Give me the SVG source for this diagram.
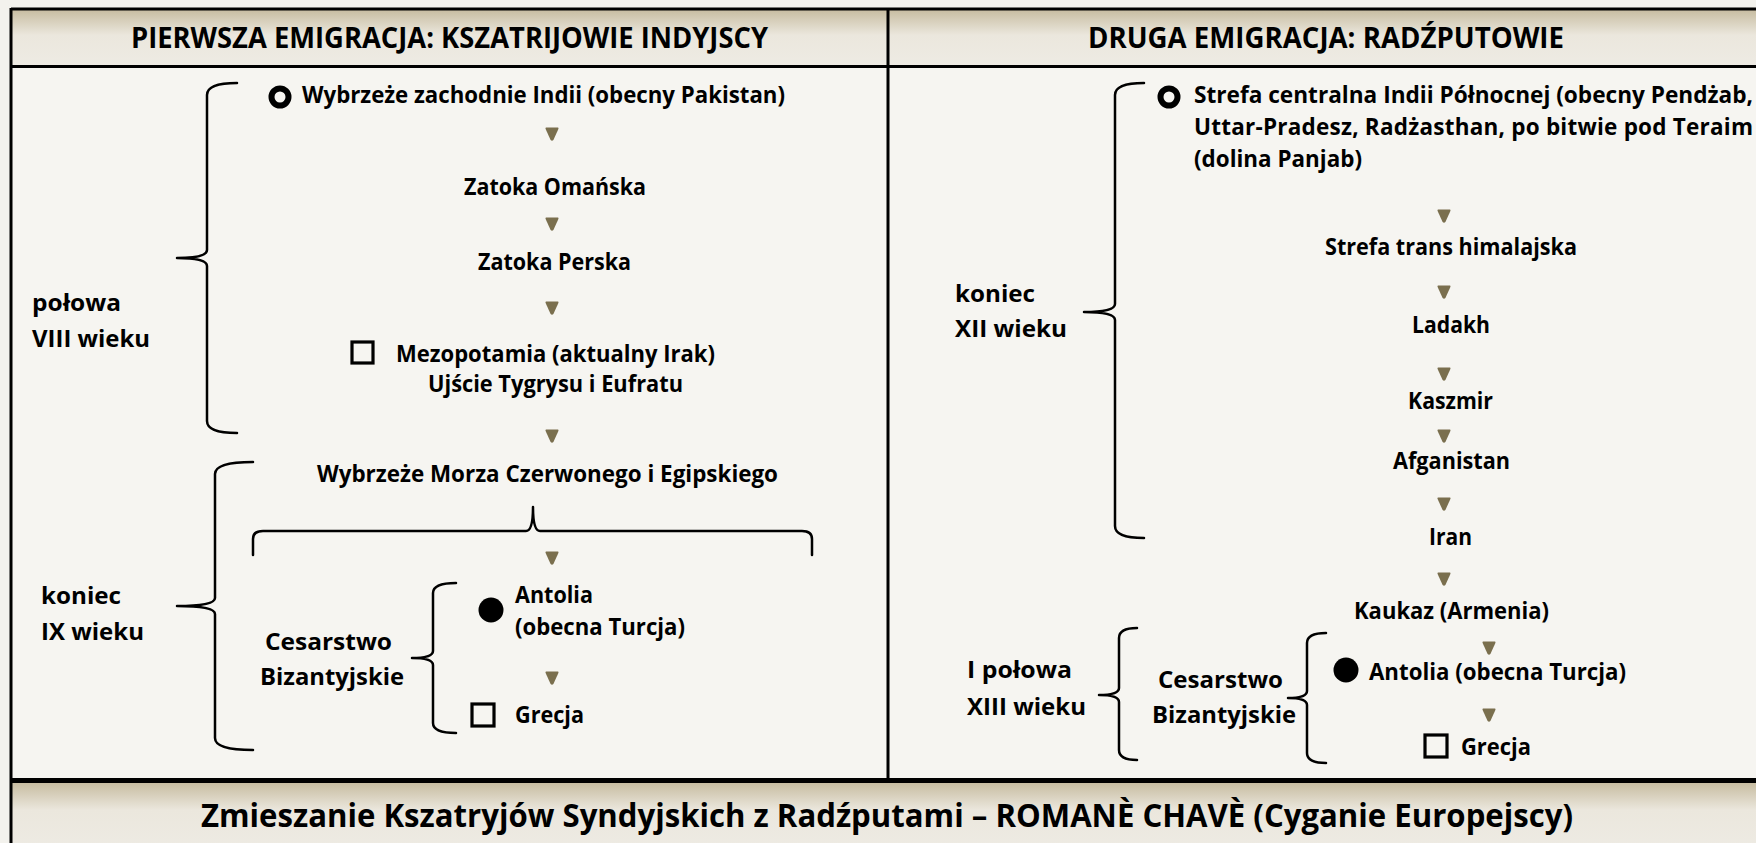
<svg xmlns="http://www.w3.org/2000/svg" width="1756" height="843" viewBox="0 0 1756 843">
<defs>
<linearGradient id="hdr" x1="0" y1="0" x2="0" y2="1">
<stop offset="0" stop-color="#c6bb9f"/>
<stop offset="0.45" stop-color="#ebe7dd"/>
<stop offset="1" stop-color="#eeebe4"/>
</linearGradient>
<linearGradient id="ftr" x1="0" y1="0" x2="0" y2="1">
<stop offset="0" stop-color="#c6bb9f"/>
<stop offset="0.4" stop-color="#ebe7dd"/>
<stop offset="1" stop-color="#eeebe4"/>
</linearGradient>
<path id="arr" d="M-6,-0.5 L6,-0.5 Q6.8,-0.5 6.4,1 L1.4,12 Q0,13.6 -1.4,12 L-6.4,1 Q-6.8,-0.5 -6,-0.5 Z" fill="#7a6f4e"/>
</defs>
<style>
text{font-family:"Open Sans","Liberation Sans",sans-serif;font-weight:700;fill:#000;}
.b{font-size:22.5px;}
.h{font-size:28px;}
.f{font-size:33px;}
.br{fill:none;stroke:#000;stroke-width:2.5;stroke-linecap:round;stroke-linejoin:round;}
.ln{stroke:#000;fill:none;}
.ring{fill:none;stroke:#000;stroke-width:6;}
.sq{fill:none;stroke:#000;stroke-width:3.2;}
</style>
<rect x="0" y="0" width="1756" height="843" fill="#f3f2ed"/>
<g id="table">
<rect x="11" y="9" width="1760" height="58" fill="url(#hdr)"/>
<rect x="11" y="67" width="1760" height="712" fill="#f6f5f1"/>
<rect x="11" y="782" width="1760" height="70" fill="url(#ftr)"/>
<line class="ln" x1="11" y1="9" x2="1760" y2="9" stroke-width="3"/>
<line class="ln" x1="11" y1="66.5" x2="1760" y2="66.5" stroke-width="3"/>
<line class="ln" x1="888" y1="9" x2="888" y2="780" stroke-width="3"/>
<line class="ln" x1="11" y1="780.5" x2="1760" y2="780.5" stroke-width="5"/>
<line class="ln" x1="11" y1="8" x2="11" y2="843" stroke-width="3"/>
</g>
<g id="header-left"><text class="h" x="131" y="48" textLength="637" lengthAdjust="spacingAndGlyphs">PIERWSZA EMIGRACJA: KSZATRIJOWIE INDYJSCY</text></g>
<g id="header-right"><text class="h" x="1088" y="48" textLength="476" lengthAdjust="spacingAndGlyphs">DRUGA EMIGRACJA: RADŹPUTOWIE</text></g>
<g id="footer"><text class="f" x="201" y="827" textLength="1372" lengthAdjust="spacingAndGlyphs">Zmieszanie Kszatryjów Syndyjskich z Radźputami – ROMANÈ CHAVÈ (Cyganie Europejscy)</text></g>

<g id="braces">
<path class="br" d="M237,83 Q207,83 207,95 L207,250 Q207,258 177,258 Q207,258 207,266 L207,421 Q207,433 237,433"/>
<path class="br" d="M253,462 Q215,462 215,474 L215,598 Q215,606 177,606 Q215,606 215,614 L215,738 Q215,750 253,750"/>
<path class="br" d="M253,555 L253,539 Q253,531 263,531 L526,531 Q533,531 533,507 Q533,531 540,531 L802,531 Q812,531 812,539 L812,555"/>
<path class="br" d="M456,583 Q433,583 433,593 L433,651 Q433,658 412,658 Q433,658 433,665 L433,723 Q433,733 456,733"/>
<path class="br" d="M1144,83 Q1115,83 1115,95 L1115,304 Q1115,312 1084,312 Q1115,312 1115,320 L1115,526 Q1115,538 1144,538"/>
<path class="br" d="M1137,628 Q1119,628 1119,638 L1119,688 Q1119,695 1099,695 Q1119,695 1119,702 L1119,750 Q1119,760 1137,760"/>
<path class="br" d="M1326,633 Q1307,633 1307,643 L1307,691 Q1307,698 1288,698 Q1307,698 1307,705 L1307,753 Q1307,763 1326,763"/>
</g>

<g id="connectors">
<use href="#arr" x="552" y="128"/>
<use href="#arr" x="552" y="218"/>
<use href="#arr" x="552" y="302"/>
<use href="#arr" x="552" y="430"/>
<use href="#arr" x="552" y="552"/>
<use href="#arr" x="552" y="672"/>
<use href="#arr" x="1444" y="210"/>
<use href="#arr" x="1444" y="286"/>
<use href="#arr" x="1444" y="368"/>
<use href="#arr" x="1444" y="430"/>
<use href="#arr" x="1444" y="498"/>
<use href="#arr" x="1444" y="573"/>
<use href="#arr" x="1489" y="642"/>
<use href="#arr" x="1489" y="709"/>
</g>

<g id="n-wybrzeze-indii"><circle class="ring" cx="280" cy="97" r="8.5"/><text class="b" x="302" y="103" textLength="483" lengthAdjust="spacingAndGlyphs">Wybrzeże zachodnie Indii (obecny Pakistan)</text></g>
<g id="n-zatoka-omanska"><text class="b" x="464" y="195" textLength="182" lengthAdjust="spacingAndGlyphs">Zatoka Omańska</text></g>
<g id="n-zatoka-perska"><text class="b" x="478" y="270" textLength="153" lengthAdjust="spacingAndGlyphs">Zatoka Perska</text></g>
<g id="n-mezopotamia"><rect class="sq" x="352" y="342" width="21" height="21"/><text class="b" x="396" y="362" textLength="319" lengthAdjust="spacingAndGlyphs">Mezopotamia (aktualny Irak)</text><text class="b" x="428" y="392" textLength="255" lengthAdjust="spacingAndGlyphs">Ujście Tygrysu i Eufratu</text></g>
<g id="n-morze-czerwone"><text class="b" x="317" y="482" textLength="461" lengthAdjust="spacingAndGlyphs">Wybrzeże Morza Czerwonego i Egipskiego</text></g>
<g id="n-antolia-l"><circle cx="491" cy="610" r="12.5" fill="#000"/><text class="b" x="515" y="603" textLength="78" lengthAdjust="spacingAndGlyphs">Antolia</text><text class="b" x="515" y="635" textLength="170" lengthAdjust="spacingAndGlyphs">(obecna Turcja)</text></g>
<g id="n-grecja-l"><rect class="sq" x="472" y="704" width="22" height="22"/><text class="b" x="515" y="723" textLength="69" lengthAdjust="spacingAndGlyphs">Grecja</text></g>
<g id="n-cesarstwo-l"><text class="b" x="265" y="650" textLength="127" lengthAdjust="spacingAndGlyphs">Cesarstwo</text><text class="b" x="260" y="685" textLength="144" lengthAdjust="spacingAndGlyphs">Bizantyjskie</text></g>
<g id="n-polowa-viii"><text class="b" x="32" y="311" textLength="89" lengthAdjust="spacingAndGlyphs">połowa</text><text class="b" x="32" y="347" textLength="118" lengthAdjust="spacingAndGlyphs">VIII wieku</text></g>
<g id="n-koniec-ix"><text class="b" x="41" y="604" textLength="80" lengthAdjust="spacingAndGlyphs">koniec</text><text class="b" x="41" y="640" textLength="103" lengthAdjust="spacingAndGlyphs">IX wieku</text></g>

<g id="n-strefa-centralna"><circle class="ring" cx="1169" cy="97" r="8.5"/><text class="b" x="1194" y="103" textLength="559" lengthAdjust="spacingAndGlyphs">Strefa centralna Indii Północnej (obecny Pendżab,</text><text class="b" x="1194" y="135" textLength="559" lengthAdjust="spacing">Uttar-Pradesz, Radżasthan, po bitwie pod Teraim</text><text class="b" x="1194" y="167" textLength="168" lengthAdjust="spacingAndGlyphs">(dolina Panjab)</text></g>
<g id="n-strefa-trans"><text class="b" x="1325" y="255" textLength="252" lengthAdjust="spacingAndGlyphs">Strefa trans himalajska</text></g>
<g id="n-ladakh"><text class="b" x="1412" y="333" textLength="78" lengthAdjust="spacingAndGlyphs">Ladakh</text></g>
<g id="n-kaszmir"><text class="b" x="1408" y="409" textLength="85" lengthAdjust="spacingAndGlyphs">Kaszmir</text></g>
<g id="n-afganistan"><text class="b" x="1393" y="469" textLength="117" lengthAdjust="spacingAndGlyphs">Afganistan</text></g>
<g id="n-iran"><text class="b" x="1429" y="545" textLength="43" lengthAdjust="spacingAndGlyphs">Iran</text></g>
<g id="n-kaukaz"><text class="b" x="1354" y="619" textLength="195" lengthAdjust="spacingAndGlyphs">Kaukaz (Armenia)</text></g>
<g id="n-antolia-r"><circle cx="1346" cy="670" r="12.5" fill="#000"/><text class="b" x="1369" y="680" textLength="257" lengthAdjust="spacingAndGlyphs">Antolia (obecna Turcja)</text></g>
<g id="n-grecja-r"><rect class="sq" x="1425" y="735" width="22" height="22"/><text class="b" x="1461" y="755" textLength="70" lengthAdjust="spacingAndGlyphs">Grecja</text></g>
<g id="n-koniec-xii"><text class="b" x="955" y="302" textLength="80" lengthAdjust="spacingAndGlyphs">koniec</text><text class="b" x="955" y="337" textLength="112" lengthAdjust="spacingAndGlyphs">XII wieku</text></g>
<g id="n-polowa-xiii"><text class="b" x="967" y="678" textLength="105" lengthAdjust="spacingAndGlyphs">I połowa</text><text class="b" x="967" y="715" textLength="119" lengthAdjust="spacingAndGlyphs">XIII wieku</text></g>
<g id="n-cesarstwo-r"><text class="b" x="1158" y="688" textLength="125" lengthAdjust="spacingAndGlyphs">Cesarstwo</text><text class="b" x="1152" y="723" textLength="144" lengthAdjust="spacingAndGlyphs">Bizantyjskie</text></g>
</svg>
